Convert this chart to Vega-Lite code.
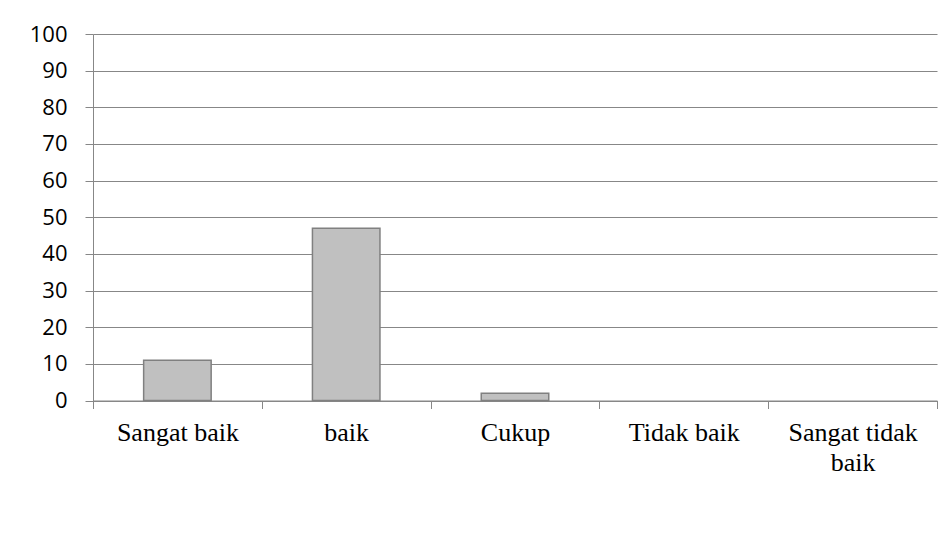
{
  "$schema": "https://vega.github.io/schema/vega-lite/v6.json",
  "autosize": {"type": "none"},
  "padding": {"left": 93, "top": 34, "right": 15, "bottom": 147},
  "width": 844,
  "height": 366.5,
  "background": "white",
  "config": {"view": {"stroke": null}},
  "data": {
    "values": [
      {"kategori": "Sangat baik", "nilai": 11},
      {"kategori": "baik", "nilai": 47},
      {"kategori": "Cukup", "nilai": 2},
      {"kategori": "Tidak baik", "nilai": 0},
      {"kategori": "Sangat tidak baik", "nilai": 0}
    ]
  },
  "mark": {"type": "bar", "width": {"band": 0.4}, "fill": "#c0c0c0", "stroke": "#808080", "strokeWidth": 1.5},
  "encoding": {
    "x": {
      "field": "kategori",
      "type": "nominal",
      "sort": null,
      "scale": {"paddingInner": 0, "paddingOuter": 0},
      "axis": {
        "title": null,
        "labelAngle": 0,
        "tickBand": "extent",
        "grid": false,
        "domainColor": "#878787",
        "tickColor": "#878787",
        "tickSize": 8,
        "labelPadding": 11,
        "labelFont": "Liberation Serif",
        "labelFontSize": 26,
        "labelColor": "black",
        "labelLineHeight": 30,
        "labelLimit": 300,
        "labelExpr": "datum.label == 'Sangat tidak baik' ? ['Sangat tidak', 'baik'] : datum.label"
      }
    },
    "y": {
      "field": "nilai",
      "type": "quantitative",
      "scale": {"domain": [0, 100], "nice": false},
      "axis": {
        "title": null,
        "values": [0, 10, 20, 30, 40, 50, 60, 70, 80, 90, 100],
        "grid": true,
        "gridColor": "#878787",
        "gridWidth": 1.2,
        "domainColor": "#878787",
        "tickColor": "#878787",
        "tickSize": 8,
        "labelPadding": 18,
        "labelFont": "Open Sans",
        "labelFontSize": 22,
        "labelColor": "black"
      }
    },
    "strokeOpacity": {
      "condition": {"test": "datum.nilai == 0", "value": 0},
      "value": 1
    }
  }
}
